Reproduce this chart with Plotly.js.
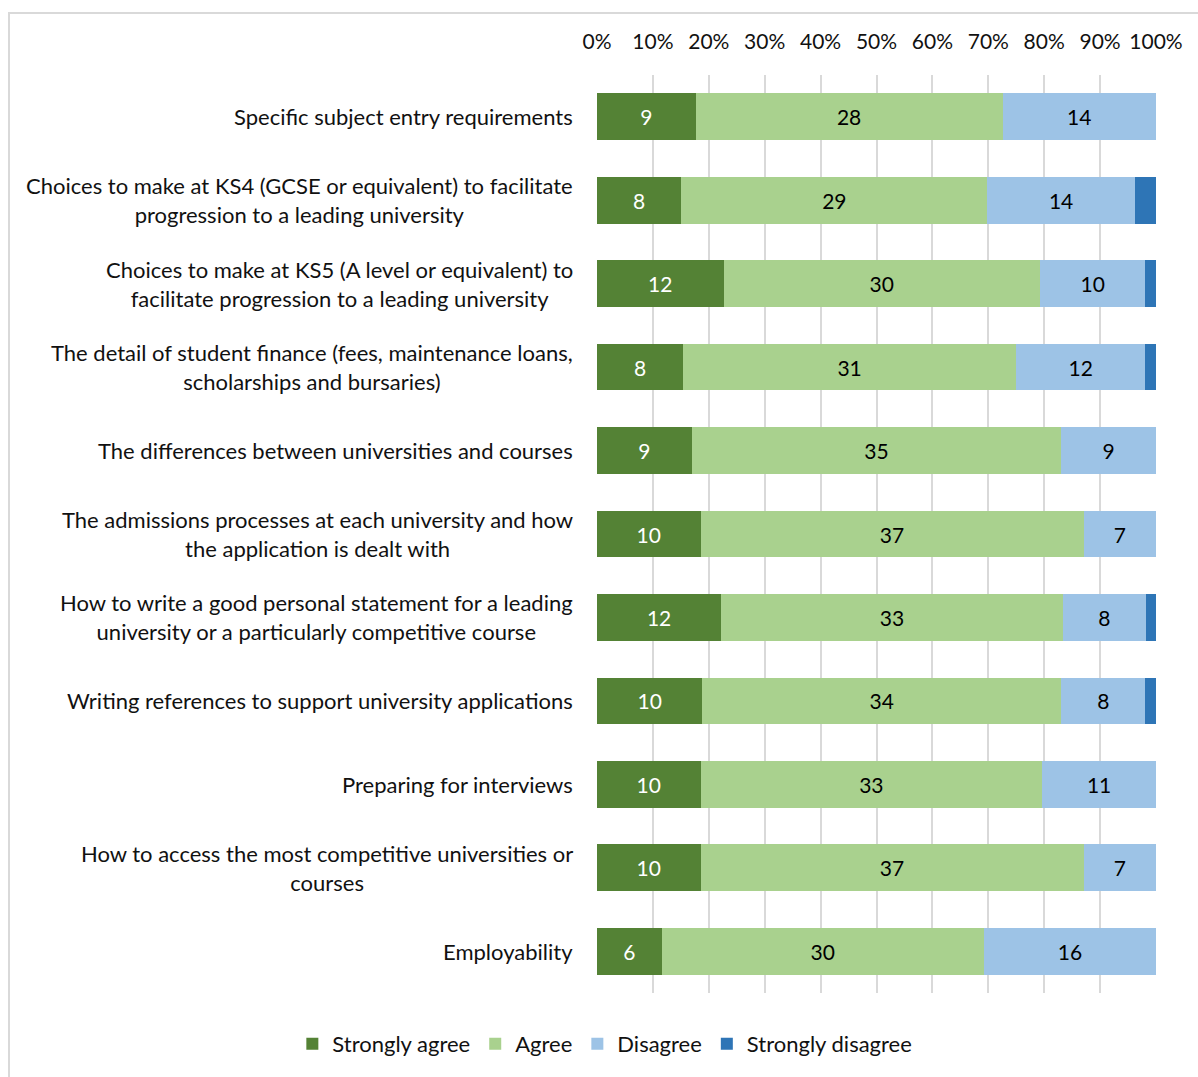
<!DOCTYPE html>
<html>
<head>
<meta charset="utf-8">
<script src="https://cdn.plot.ly/plotly-3.0.1.min.js"></script>
<style>
  html, body { margin: 0; padding: 0; background: #fff; overflow: hidden; }
  #wrap { position: relative; width: 1198px; height: 1077px; overflow: hidden; }
  #chart { position: absolute; left: 0; top: 0; width: 1198px; height: 1077px; }
  #frame { position: absolute; left: 8px; top: 12px; width: 1300px; height: 1200px;
           border: 2px solid #d9d9d9; box-sizing: border-box; pointer-events: none; }
</style>
</head>
<body>
<div id="wrap">
  <div id="chart"></div>
  <div id="frame"></div>
</div>
<script>
const categories = [
  "Specific subject entry requirements",
  "Choices to make at KS4 (GCSE or equivalent) to facilitate progression to a leading university",
  "Choices to make at KS5 (A level or equivalent) to facilitate progression to a leading university",
  "The detail of student finance (fees, maintenance loans, scholarships and bursaries)",
  "The differences between universities and courses",
  "The admissions processes at each university and how the application is dealt with",
  "How to write a good personal statement for a leading university or a particularly competitive course",
  "Writing references to support university applications",
  "Preparing for interviews",
  "How to access the most competitive universities or courses",
  "Employability"
];
const categoryLabels = [
  "Specific subject entry requirements",
  "Choices to make at KS4 (GCSE or equivalent) to facilitate<br>progression to a leading university",
  "Choices to make at KS5 (A level or equivalent) to<br>facilitate progression to a leading university",
  "The detail of student finance (fees, maintenance loans,<br>scholarships and bursaries)",
  "The differences between universities and courses",
  "The admissions processes at each university and how<br>the application is dealt with",
  "How to write a good personal statement for a leading<br>university or a particularly competitive course",
  "Writing references to support university applications",
  "Preparing for interviews",
  "How to access the most competitive universities or<br>courses",
  "Employability"
];
const seriesNames = ["Strongly agree", "Agree", "Disagree", "Strongly disagree"];
const stronglyAgree    = [9, 8, 12, 8, 9, 10, 12, 10, 10, 10, 6];
const agree            = [28, 29, 30, 31, 35, 37, 33, 34, 33, 37, 30];
const disagree         = [14, 14, 10, 12, 9, 7, 8, 8, 11, 7, 16];
const stronglyDisagree = [0, 2, 1, 1, 0, 0, 1, 1, 0, 0, 0];
const tickVals   = [0, 10, 20, 30, 40, 50, 60, 70, 80, 90, 100];
const tickLabels = ["0%", "10%", "20%", "30%", "40%", "50%", "60%", "70%", "80%", "90%", "100%"];

const FONT = "Lato, 'Open Sans', sans-serif";
const colors = ["#548235", "#A9D18E", "#9DC3E6", "#2E75B6"];
const textColors = ["#ffffff", "#000000", "#000000", "#000000"];
const allSeries = [stronglyAgree, agree, disagree, stronglyDisagree];

const traces = allSeries.map((vals, i) => ({
  type: "bar",
  orientation: "h",
  name: seriesNames[i],
  y: categories,
  x: vals,
  text: i < 3 ? vals.map(String) : vals.map(() => ""),
  textposition: i < 3 ? "inside" : "none",
  insidetextanchor: "middle",
  textangle: 0,
  constraintext: "none",
  textfont: { family: FONT, size: 21, color: textColors[i] },
  marker: { color: colors[i], line: { width: 0 } },
  hoverinfo: "skip"
}));

const annotations = categories.map((c, i) => ({
  xref: "paper", yref: "y",
  x: 0, y: c,
  xanchor: "right", yanchor: "middle",
  xshift: -22,
  align: "center",
  showarrow: false,
  text: categoryLabels[i],
  font: { family: FONT, size: 22, color: "#111111" }
}));

const layout = {
  width: 1198, height: 1077,
  paper_bgcolor: "#ffffff", plot_bgcolor: "#ffffff",
  margin: { l: 597, r: 42, t: 75, b: 78 },
  barmode: "stack",
  barnorm: "percent",
  bargap: 0.44,
  font: { family: FONT, size: 20, color: "#111111" },
  xaxis: {
    side: "top",
    range: [0, 100],
    tickvals: tickVals,
    ticktext: tickLabels,
    showgrid: true,
    gridcolor: "#d9d9d9",
    gridwidth: 2,
    zeroline: false,
    showline: false,
    ticks: "",
    ticklabelstandoff: 21,
    tickfont: { family: FONT, size: 21, color: "#111111" },
    fixedrange: true
  },
  yaxis: {
    type: "category",
    autorange: "reversed",
    showticklabels: false,
    showgrid: false,
    zeroline: false,
    showline: false,
    ticks: "",
    fixedrange: true
  },
  showlegend: true,
  legend: {
    orientation: "h",
    xref: "paper", yref: "paper",
    x: -0.545, xanchor: "left",
    y: -0.0555, yanchor: "middle",
    traceorder: "normal",
    font: { family: FONT, size: 22, color: "#111111" },
    itemwidth: 30,
    bgcolor: "rgba(0,0,0,0)"
  },
  annotations: annotations
};

Plotly.newPlot("chart", traces, layout, { displayModeBar: false, staticPlot: true });
</script>
</body>
</html>
